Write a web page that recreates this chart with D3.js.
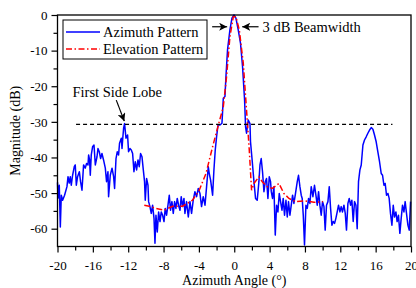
<!DOCTYPE html>
<meta charset="utf-8">
<style>
body { margin: 0; background: #fff; }
</style>
<svg width="416" height="288"></svg>
<script src="https://cdn.jsdelivr.net/npm/d3@7/dist/d3.min.js"></script>
<script>

// azimuth pattern (measured), angle in degrees / magnitude in dB
var azAngle = [-20.0,-19.94,-19.8,-19.68,-19.57,-19.42,-19.2,-18.93,-18.81,-18.67,-18.55,-18.44,-18.29,-18.1,-17.99,-17.87,-17.73,-17.53,-17.39,-17.23,
  -17.05,-16.86,-16.71,-16.55,-16.48,-16.37,-16.29,-16.18,-16.03,-15.87,-15.72,-15.53,-15.42,-15.27,-15.12,-14.97,-14.79,-14.59,-14.45,-14.29,
  -14.22,-14.03,-13.83,-13.65,-13.54,-13.38,-13.24,-13.09,-12.98,-12.78,-12.7,-12.63,-12.52,-12.41,-12.25,-12.07,-11.96,-11.8,-11.65,-11.5,
  -11.35,-11.2,-11.05,-10.89,-10.75,-10.6,-10.44,-10.29,-10.15,-10.07,-9.92,-9.76,-9.69,-9.54,-9.39,-9.24,-9.08,-8.97,-8.86,-8.71,
  -8.56,-8.4,-8.26,-8.11,-7.95,-7.81,-7.66,-7.5,-7.35,-7.21,-7.05,-6.9,-6.75,-6.6,-6.45,-6.3,-6.14,-6.0,-5.85,-5.69,
  -5.58,-5.4,-5.2,-5.01,-4.83,-4.64,-4.45,-4.26,-4.07,-3.88,-3.7,-3.51,-3.31,-3.13,-2.94,-2.83,-2.68,-2.45,-2.3,-2.15,
  -2.0,-1.84,-1.62,-1.39,-1.24,-1.05,-0.94,-0.76,-0.49,-0.26,-0.03,0.19,0.45,0.71,0.94,1.17,1.28,1.39,1.58,1.78,
  1.84,2.04,2.23,2.41,2.6,2.79,2.91,3.05,3.2,3.36,3.51,3.65,3.81,3.96,4.11,4.19,4.33,4.49,4.64,4.79,
  4.94,5.09,5.24,5.4,5.54,5.69,5.85,6.0,6.14,6.3,6.45,6.6,6.75,6.9,7.13,7.27,7.43,7.58,7.69,7.81,
  7.95,8.11,8.26,8.41,8.56,8.71,8.9,9.08,9.24,9.39,9.54,9.69,9.84,9.99,10.15,10.29,10.44,10.6,10.75,10.9,
  11.05,11.2,11.35,11.5,11.65,11.8,11.96,12.1,12.25,12.41,12.56,12.7,12.86,13.01,13.16,13.31,13.46,13.61,13.77,13.91,
  14.06,14.22,14.37,14.56,14.74,14.93,15.12,15.31,15.5,15.69,15.87,16.06,16.25,16.44,16.63,16.78,16.94,17.08,17.23,17.39,
  17.53,17.68,17.84,17.99,18.13,18.29,18.43,18.58,18.74,18.89,19.04,19.2,19.34,19.49,19.65,19.8,19.95];

var azMag = [-47,-51.4,-47.8,-59.5,-50.6,-52,-50.6,-48.2,-45.4,-47.2,-45.4,-47.8,-45,-42.6,-42.1,-47.8,-45.4,-44,-46.8,-49.2,
  -42.1,-43,-41.7,-42.1,-39.3,-40.7,-45,-39.3,-37,-36.5,-42.1,-39.8,-37.5,-38.4,-40.3,-38.9,-40.7,-43,-46.8,-44,
  -51,-45,-43,-45.4,-48.7,-40.3,-38.4,-39.3,-36,-34.6,-37.5,-35.1,-31.8,-30.5,-34.6,-33.7,-38.4,-37.5,-37.9,-38.9,
  -44,-41.2,-43.5,-40.7,-42.6,-38.9,-39.8,-43.5,-46.8,-52,-45.9,-47.8,-52.4,-53.8,-55.7,-53.4,-57.1,-64.1,-56.2,-60.9,
  -55.3,-58,-55.3,-56.2,-58,-54.3,-56.2,-53.4,-50.6,-54.8,-52.4,-55.7,-52.4,-54.3,-51.5,-53.4,-54.8,-51,-53.8,-51.5,
  -55.7,-52.4,-56.7,-52.4,-55.7,-52,-49.6,-51,-48.7,-50.1,-53.8,-51,-53.4,-48.2,-42.6,-44.5,-46.3,-50.6,-43.5,-37.9,
  -34.2,-30.9,-30.9,-30.4,-23.4,-22.9,-17.3,-9.8,-4.2,-0.9,0,-0.9,-4.2,-8,-14.5,-23.9,-31.4,-33.2,-29.5,-30.5,
  -35.6,-41.2,-46.8,-51.5,-52,-46.8,-42.1,-40.3,-44,-49.6,-46.8,-45.9,-51.5,-45.4,-46.8,-49.6,-51.5,-48.2,-61.8,-53.4,
  -55.3,-50.1,-52.4,-54.8,-51.5,-56.2,-52,-56.7,-52.4,-56.2,-53.4,-50.6,-52.9,-50.6,-46.8,-45,-48.2,-50.6,-51.5,-56.2,
  -64.6,-53.4,-54.3,-51.5,-52.9,-48.2,-51,-47.8,-50.6,-53.4,-49.6,-53.4,-56.2,-52.4,-53.8,-60.4,-53.4,-52.4,-48.2,-54.3,
  -59,-58,-58.5,-57.1,-55.3,-53.4,-55.3,-53.8,-55.3,-53.4,-55.7,-60.4,-52.9,-51.5,-53.4,-52,-58,-52.4,-53.4,-60,
  -46.8,-43.5,-42.1,-36.5,-35.1,-34.2,-33.2,-32.3,-31.6,-32.1,-33.7,-35.6,-38.4,-41.2,-44.5,-45,-47.8,-47.3,-50.6,-50.1,
  -51.5,-55.7,-59,-53.4,-56.7,-55.3,-58,-56.2,-61.3,-57.1,-53.4,-55.3,-52.4,-55.7,-59,-60.4,-52.4];

// elevation pattern
var elAngle = [-10.18,-9.62,-8.86,-7.92,-6.98,-5.85,-4.72,-3.96,-3.2,-2.45,-1.7,-1.24,-0.87,-0.49,-0.11,0.19,0.57,1.02,1.39,1.7,
  1.96,2.04,2.23,2.79,3.17,3.73,4.3,5.06,5.62,6.19,6.93,8.07,9.02,10.03];
var elMag = [-53.4,-53.7,-54.3,-54.8,-53.7,-53.7,-52,-49.2,-44.5,-37,-30,-25.8,-17.3,-6.1,-0.5,-0.5,-4.2,-13.5,-26.7,-37.9,
  -49.2,-48.7,-47.3,-45.4,-46.8,-48.2,-48.7,-47.3,-50.1,-51.5,-52.4,-52.2,-52.6,-52.4];

var xTicks = [-20, -16, -12, -8, -4, 0, 4, 8, 12, 16, 20];
var yTicks = [0, -10, -20, -30, -40, -50, -60];
var sideLobeLevel = -30.7;

var serif = "Liberation Serif";

var svg = d3.select("svg");

var x = d3.scaleLinear().domain([-20, 20]).range([57.5, 411]),
    y = d3.scaleLinear().domain([-65, 0]).range([246.5, 15]);

var az = azAngle.map(function(a, i) { return [a, azMag[i]]; }),
    el = elAngle.map(function(a, i) { return [a, elMag[i]]; });

var line = d3.line()
    .x(function(d) { return x(d[0]); })
    .y(function(d) { return y(d[1]); });

var plot = svg.append("g");

plot.append("path")
    .datum(az)
    .attr("d", line)
    .attr("fill", "none")
    .attr("stroke", "#0000ff")
    .attr("stroke-width", 1.5)
    .attr("stroke-linejoin", "round");

plot.append("path")
    .datum(el)
    .attr("d", line)
    .attr("fill", "none")
    .attr("stroke", "#ff0000")
    .attr("stroke-width", 1.5)
    .attr("stroke-dasharray", "6,2.5,1.5,2.5");

// side lobe level
plot.append("line")
    .attr("x1", x(-17.9)).attr("x2", x(17.9))
    .attr("y1", y(sideLobeLevel)).attr("y2", y(sideLobeLevel))
    .attr("stroke", "#000")
    .attr("stroke-width", 1.2)
    .attr("stroke-dasharray", "4,3");

// axes (plain hyphen for minus, as in the original)
var fmt = function(d) { return String(d); };

var xAxis = d3.axisBottom(x).tickValues(xTicks).tickSize(6).tickPadding(8).tickFormat(fmt),
    xMinor = d3.axisBottom(x).tickValues(d3.range(-18, 20, 4)).tickSize(4).tickFormat(""),
    yAxis = d3.axisLeft(y).tickValues(yTicks).tickSize(6).tickPadding(4).tickFormat(fmt),
    yMinor = d3.axisLeft(y).tickValues(d3.range(-5, -65, -10)).tickSize(4).tickFormat("");

function styleAxis(g) {
  g.select(".domain").remove();
  g.selectAll("line").attr("stroke", "#000").attr("stroke-width", 1.2);
  g.selectAll("text")
      .attr("fill", "#000")
      .style("font-family", serif)
      .style("font-size", "13px");
}

svg.append("g").attr("transform", "translate(0," + y(-65) + ")").call(xAxis).call(styleAxis);
svg.append("g").attr("transform", "translate(0," + y(-65) + ")").call(xMinor).call(styleAxis);
svg.append("g").attr("transform", "translate(" + x(-20) + ",0)").call(yAxis).call(styleAxis);
svg.append("g").attr("transform", "translate(" + x(-20) + ",0)").call(yMinor).call(styleAxis);

svg.append("rect")
    .attr("x", x(-20)).attr("y", y(0))
    .attr("width", x(20) - x(-20)).attr("height", y(-65) - y(0))
    .attr("fill", "none")
    .attr("stroke", "#000")
    .attr("stroke-width", 1.3);

function label(sel, size) {
  return sel.style("font-family", serif).style("font-size", size + "px").attr("fill", "#000");
}

svg.append("text")
    .attr("x", (x(-20) + x(20)) / 2).attr("y", 285)
    .attr("text-anchor", "middle")
    .call(label, 14)
    .text("Azimuth Angle (\u00b0)");

svg.append("text")
    .attr("transform", "translate(19.5," + (y(0) + y(-65)) / 2 + ") rotate(-90)")
    .attr("text-anchor", "middle")
    .call(label, 14)
    .text("Magnitude (dB)");

// legend
var legend = svg.append("g");
legend.append("rect")
    .attr("x", 63).attr("y", 20).attr("width", 144).attr("height", 39)
    .attr("fill", "#fff").attr("stroke", "#000").attr("stroke-width", 1);
legend.append("line").attr("x1", 66).attr("x2", 100).attr("y1", 32).attr("y2", 32)
    .attr("stroke", "#0000ff").attr("stroke-width", 1.5);
legend.append("line").attr("x1", 66).attr("x2", 100).attr("y1", 49).attr("y2", 49)
    .attr("stroke", "#ff0000").attr("stroke-width", 1.5).attr("stroke-dasharray", "6,2.5,1.5,2.5");
legend.append("text").attr("x", 103).attr("y", 36.5).call(label, 14.5).text("Azimuth Pattern");
legend.append("text").attr("x", 103).attr("y", 53.5).call(label, 14.5).text("Elevation Pattern");

// arrows
svg.append("defs").append("marker")
    .attr("id", "arrow")
    .attr("viewBox", "0 -4 8 8")
    .attr("refX", 8).attr("refY", 0)
    .attr("markerWidth", 8).attr("markerHeight", 8)
    .attr("markerUnits", "userSpaceOnUse")
    .attr("orient", "auto")
  .append("path")
    .attr("d", "M0,-4L8,0L0,4L2,0Z")
    .attr("fill", "#000");

function arrow(a0, m0, a1, m1) {
  svg.append("line")
      .attr("x1", x(a0)).attr("y1", y(m0))
      .attr("x2", x(a1)).attr("y2", y(m1))
      .attr("stroke", "#000").attr("stroke-width", 1.2)
      .attr("marker-end", "url(#arrow)");
}

arrow(-2.5, -3.3, -0.8, -3.3);
arrow(2.75, -3.3, 0.9, -3.3);
arrow(-13.35, -23.9, -12.44, -29.8);

svg.append("text")
    .attr("x", x(3.2)).attr("y", y(-3.3) + 5)
    .call(label, 14.5)
    .text("3 dB Beamwidth");

svg.append("text")
    .attr("x", x(-18.3)).attr("y", 97)
    .call(label, 14.5)
    .text("First Side Lobe");

</script>
